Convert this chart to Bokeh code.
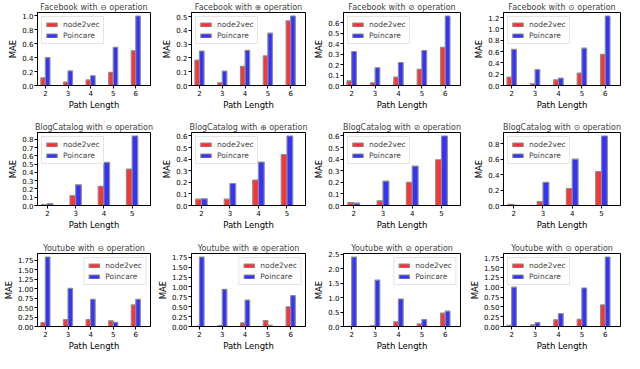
from bokeh.plotting import figure
from bokeh.layouts import gridplot
from bokeh.models import ColumnDataSource, Range1d, FixedTicker, SingleIntervalTicker, PrintfTickFormatter
from bokeh.transform import dodge
from bokeh.embed import file_html
from bokeh.resources import INLINE

# ---------------- data ----------------
datasets = ["Facebook", "BlogCatalog", "Youtube"]
operations = ["\u2296", "\u2295", "\u2298", "\u2299"]
series_names = ["node2vec", "Poincare"]

path_fb = [2, 3, 4, 5, 6]
path_bc = [2, 3, 4, 5]
path_yt = [2, 3, 4, 5, 6]

# Facebook
fb_minus_n2v = [0.11, 0.05, 0.08, 0.19, 0.50]
fb_minus_poi = [0.40, 0.21, 0.14, 0.55, 1.00]
fb_plus_n2v = [0.185, 0.02, 0.14, 0.215, 0.47]
fb_plus_poi = [0.25, 0.105, 0.255, 0.38, 0.505]
fb_oslash_n2v = [0.045, 0.025, 0.08, 0.155, 0.365]
fb_oslash_poi = [0.325, 0.17, 0.22, 0.335, 0.665]
fb_odot_n2v = [0.15, 0.03, 0.10, 0.22, 0.55]
fb_odot_poi = [0.64, 0.28, 0.13, 0.66, 1.23]

# BlogCatalog
bc_minus_n2v = [0.01, 0.12, 0.23, 0.44]
bc_minus_poi = [0.02, 0.25, 0.52, 0.84]
bc_plus_n2v = [0.055, 0.055, 0.22, 0.44]
bc_plus_poi = [0.058, 0.19, 0.375, 0.60]
bc_oslash_n2v = [0.025, 0.04, 0.20, 0.395]
bc_oslash_poi = [0.02, 0.21, 0.34, 0.60]
bc_odot_n2v = [0.015, 0.05, 0.22, 0.44]
bc_odot_poi = [0.003, 0.30, 0.60, 0.90]

# Youtube
yt_minus_n2v = [0.10, 0.18, 0.18, 0.15, 0.57]
yt_minus_poi = [1.84, 1.01, 0.72, 0.11, 0.72]
yt_plus_n2v = [0.005, 0.02, 0.09, 0.15, 0.50]
yt_plus_poi = [1.76, 0.94, 0.67, 0.03, 0.78]
yt_oslash_n2v = [0.005, 0.03, 0.16, 0.09, 0.46]
yt_oslash_poi = [2.40, 1.60, 0.95, 0.24, 0.53]
yt_odot_n2v = [0.03, 0.04, 0.17, 0.18, 0.55]
yt_odot_poi = [1.00, 0.10, 0.33, 0.98, 1.77]

# y tick steps and label formats per panel
ytick_steps = [
    [0.2, 0.1, 0.1, 0.2],
    [0.1, 0.1, 0.1, 0.2],
    [0.25, 0.25, 0.5, 0.25],
]
ytick_formats = [
    ["%.1f", "%.1f", "%.1f", "%.1f"],
    ["%.1f", "%.1f", "%.1f", "%.1f"],
    ["%.2f", "%.2f", "%.1f", "%.2f"],
]
legend_locations = [
    ["top_left"] * 4,
    ["top_left"] * 4,
    ["top_right", "top_right", "top_right", "top_left"],
]

panels = [
    [(path_fb, fb_minus_n2v, fb_minus_poi), (path_fb, fb_plus_n2v, fb_plus_poi),
     (path_fb, fb_oslash_n2v, fb_oslash_poi), (path_fb, fb_odot_n2v, fb_odot_poi)],
    [(path_bc, bc_minus_n2v, bc_minus_poi), (path_bc, bc_plus_n2v, bc_plus_poi),
     (path_bc, bc_oslash_n2v, bc_oslash_poi), (path_bc, bc_odot_n2v, bc_odot_poi)],
    [(path_yt, yt_minus_n2v, yt_minus_poi), (path_yt, yt_plus_n2v, yt_plus_poi),
     (path_yt, yt_oslash_n2v, yt_oslash_poi), (path_yt, yt_odot_n2v, yt_odot_poi)],
]

# ---------------- layout / style ----------------
col_widths = [154, 157, 155, 158]
row_heights = [112, 120, 121]
row_top = [12, 20, 21]
col_right = [4, 6, 6, 4]

FONT = "DejaVu Sans"
RED = "#ff3333"
BLUE = "#3333ff"
EDGE = "#8c8c8c"

rows = []
for r, ds in enumerate(datasets):
    row_figs = []
    for c, op in enumerate(operations):
        xs, n2v, poi = panels[r][c]
        ymax = max(max(n2v), max(poi)) * 1.05
        p = figure(
            width=col_widths[c], height=row_heights[r],
            output_backend="svg", toolbar_location=None,
            x_range=Range1d(xs[0] - 0.35, xs[-1] + 0.65),
            y_range=Range1d(0, ymax),
            title=f"{ds} with {op} operation",
            min_border_left=0, min_border_right=col_right[c],
            min_border_top=row_top[r], min_border_bottom=0,
        )
        src = ColumnDataSource(dict(x=xs, n2v=n2v, poi=poi))
        p.vbar(x=dodge("x", -0.1), top="n2v", width=0.2, source=src,
               fill_color=RED, line_color=EDGE, line_width=1.2,
               legend_label=series_names[0])
        p.vbar(x=dodge("x", 0.1), top="poi", width=0.2, source=src,
               fill_color=BLUE, line_color=EDGE, line_width=1.2,
               legend_label=series_names[1])

        p.title.text_font = FONT
        p.title.text_font_size = "8px"
        p.title.text_font_style = "normal"
        p.title.align = "center"
        p.title.standoff = 1
        p.title.offset = 0

        p.xaxis.ticker = FixedTicker(ticks=xs)
        p.yaxis.ticker = SingleIntervalTicker(interval=ytick_steps[r][c], num_minor_ticks=0)
        p.yaxis.formatter = PrintfTickFormatter(format=ytick_formats[r][c])
        p.xaxis.axis_label = "Path Length"
        p.yaxis.axis_label = "MAE"
        for ax in (p.xaxis, p.yaxis):
            ax.axis_label_text_font = FONT
            ax.axis_label_text_font_size = "8.5px"
            ax.axis_label_text_font_style = "normal"
            ax.axis_label_standoff = 1
            ax.major_label_text_font = FONT
            ax.major_label_text_font_size = "7px"
            ax.major_label_standoff = 1
            ax.major_tick_out = 3
            ax.major_tick_in = 0
            ax.minor_tick_out = 0
            ax.minor_tick_in = 0
            ax.axis_line_color = "black"
            ax.major_tick_line_color = "black"
            ax.major_label_text_color = "black"
            ax.axis_label_text_color = "black"
        p.xgrid.visible = False
        p.ygrid.visible = False
        p.outline_line_color = "black"
        p.outline_line_width = 1
        p.outline_line_alpha = 1

        lg = p.legend[0]
        lg.location = legend_locations[r][c]
        lg.label_text_font = FONT
        lg.label_text_font_size = "7.5px"
        lg.glyph_width = 13
        lg.glyph_height = 5
        lg.label_height = 8
        lg.label_standoff = 5
        lg.spacing = 2
        lg.padding = 3
        lg.margin = 4
        lg.border_line_color = "#cccccc"
        lg.border_line_width = 1
        lg.background_fill_alpha = 0.8
        row_figs.append(p)
    rows.append(row_figs)

grid = gridplot(rows, toolbar_location=None)

with open("out.html", "w") as f:
    f.write(file_html(grid, INLINE))
